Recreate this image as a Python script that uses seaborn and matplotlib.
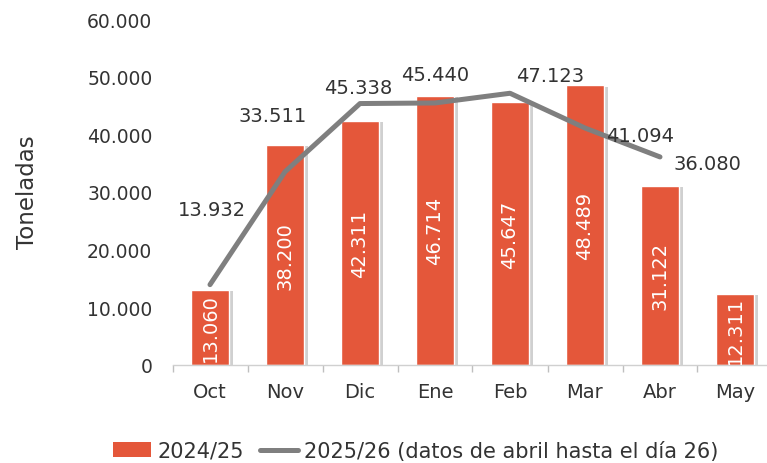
import numpy as np
import pandas as pd
import matplotlib
matplotlib.use("Agg")
import matplotlib.pyplot as plt
import seaborn as sns
from matplotlib.patches import Patch
from matplotlib.lines import Line2D
from matplotlib.ticker import FuncFormatter, FixedLocator
import matplotlib.patheffects as pe

months = ["Oct", "Nov", "Dic", "Ene", "Feb", "Mar", "Abr", "May"]
series_2425 = [13060, 38200, 42311, 46714, 45647, 48489, 31122, 12311]
series_2526 = [13932, 33511, 45338, 45440, 47123, 41094, 36080]
label_2425 = "2024/25"
label_2526 = "2025/26 (datos de abril hasta el día 26)"
y_ticks = [0, 10000, 20000, 30000, 40000, 50000, 60000]

# offsets (pixels) of the line value labels relative to their points
line_label_offsets = [(2, 75), (-12, 56), (-2, 16), (0, 28), (40, 18), (55, -7), (47, -7)]

BAR = "#E4573A"
LINE = "#7F7F7F"
TXT = "#333333"

sns.set_theme(style="white")
plt.rcParams["font.family"] = ["DejaVu Sans"]

fig = plt.figure(figsize=(7.67, 4.64), dpi=100)
ax = fig.add_axes([172.5 / 767, 98 / 464, 600 / 767, 346 / 464])

df = pd.DataFrame({"mes": months, "valor": series_2425})
sns.barplot(data=df, x="mes", y="valor", color=BAR, saturation=1, width=0.5, ax=ax)
for p in ax.patches:
    p.set_path_effects([pe.SimplePatchShadow(offset=(3, -1), shadow_rgbFace="#8a8a8a", alpha=0.4), pe.Normal()])

xpos = np.arange(len(series_2526))
sns.lineplot(x=xpos, y=series_2526, color=LINE, linewidth=3.6, ax=ax, sort=False)
for l in ax.lines:
    l.set_solid_capstyle("round")
    l.set_solid_joinstyle("round")

fmt = lambda v: f"{int(v):,}".replace(",", ".")

for i, v in enumerate(series_2425):
    ax.text(i, v / 2, fmt(v), rotation=90, ha="center", va="center",
            color="white", fontsize=14, clip_on=True)

for i, v in enumerate(series_2526):
    dx, dy = line_label_offsets[i]
    ax.annotate(fmt(v), (i, v), xytext=(dx, dy), textcoords="offset pixels",
                ha="center", va="center", fontsize=14, color=TXT)

ax.set_ylim(0, 60000)
ax.set_xlim(-0.5, len(months) - 0.5)
ax.yaxis.set_major_locator(FixedLocator(y_ticks))
ax.yaxis.set_major_formatter(FuncFormatter(lambda v, p: fmt(v)))
ax.set_xlabel("")
ax.set_ylabel("")
ax.tick_params(axis="y", length=0, pad=14.5, labelsize=13.5, labelcolor=TXT)
ax.tick_params(axis="x", which="major", bottom=True, length=0, pad=12, labelsize=14, labelcolor=TXT)
ax.xaxis.set_minor_locator(FixedLocator(np.arange(-0.5, len(months), 1.0)))
ax.tick_params(axis="x", which="minor", bottom=True, length=5, width=1, color="#BFBFBF", direction="out")
ax.grid(False)
for s in ["top", "right", "left"]:
    ax.spines[s].set_visible(False)
ax.spines["bottom"].set_color("#D0D0D0")
ax.spines["bottom"].set_linewidth(1)

fig.text(28 / 767, 1 - 192 / 464, "Toneladas", rotation=90, ha="center", va="center",
         fontsize=16.5, color=TXT)

handles = [Patch(facecolor=BAR, edgecolor="none"),
           Line2D([0], [0], color=LINE, linewidth=3.6)]
fig.legend(handles, [label_2425, label_2526], loc="center", bbox_to_anchor=(416 / 767, 12 / 464),
           ncol=2, frameon=False, fontsize=15, handlelength=1.8, handletextpad=0.3,
           columnspacing=0.8, labelcolor=TXT)

fig.savefig("out.png", dpi=100)
